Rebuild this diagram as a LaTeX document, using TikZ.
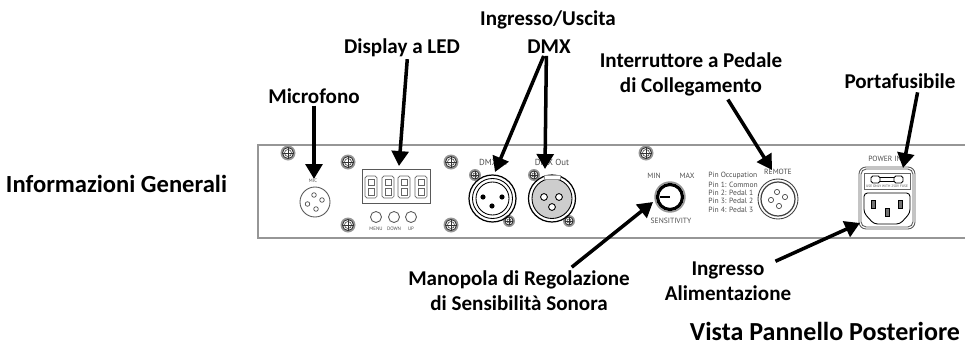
\documentclass[tikz,border=0pt]{standalone}
\usepackage{fontspec}
\setmainfont{Carlito}
\newfontfamily\panelfont{PT Sans}
\usetikzlibrary{arrows.meta}
\begin{document}
\begin{tikzpicture}[x=0.02cm,y=-0.02cm,
        callout/.style={line width=2pt, -{Triangle[width=9.5pt,length=8.5pt]}},
        heading/.style={inner sep=0pt, align=center, font=\bfseries\fontsize{12}{14.2}\selectfont},
        title/.style={inner sep=0pt, font=\bfseries\fontsize{14}{16}\selectfont},
        panel/.style={inner sep=0pt, text=black!70, font=\panelfont\fontsize{4.3}{5}\selectfont},
        jackname/.style={inner sep=0pt, text=black!70, font=\panelfont\fontsize{5}{6}\selectfont},
        tiny/.style={inner sep=0pt, text=black!70, font=\panelfont\fontsize{2.8}{3}\selectfont},
        outline/.style={draw=black!65, line width=0.5pt},
        hole/.style={draw=black!70, fill=white, line width=0.4pt}]
    \definecolor{rim}{RGB}{150,150,150}
    \definecolor{socket}{RGB}{205,205,205}

    \useasboundingbox (0,0) rectangle (965,345);

    \draw [draw=rim, line width=0.7pt] (965,145) -- (258,145) -- (258,238) -- (965,238);

    % screws
    \foreach \x/\y/\r in {288/153/7.5,348/162/7.5,348/225/7.5,451/162/7.5,451/225/7.5,646/153/7.5,475/175/6,509/221/6,534/175/6,569/221/6}{
        \fill [rim] (\x,\y) circle[radius=\r];
        \draw [fill=white, draw=black!80, line width=0.5pt] (\x,\y) circle[radius=\r-2];
        \draw [draw=black!80, line width=0.3pt] (\x-\r+2,\y) -- (\x+\r-2,\y);
        \draw [draw=black!80, line width=0.3pt] (\x,\y-\r+2) -- (\x,\y+\r-2);
        \draw [draw=black!80, line width=0.3pt] (\x,\y) circle[radius=\r-4];
    }

    % microphone
    \draw [outline] (315,202) circle[radius=15];
    \foreach \dx/\dy in {-1/-7,7/-2,1/7,-7.5/2}{
        \draw [hole] (315+\dx,202+\dy) circle[radius=2.3];
    }
    \node [tiny] (micText) at (313,181) {MIC};

    % display
    \draw [outline] (362,169) rectangle (430,203);
    \foreach \x in {371,388,404,421}{
        \draw [draw=black!60, line width=0.4pt, rounded corners=1pt] (\x-6,176) rectangle (\x+6,198);
        \draw [draw=black!60, line width=0.3pt] (\x-3,179) rectangle (\x+3,185.5);
        \draw [draw=black!60, line width=0.3pt] (\x-3,188.5) rectangle (\x+3,195);
    }
    \foreach \x/\name in {376/MENU,394/DOWN,411/UP}{
        \draw [outline] (\x,217) circle[radius=5.5];
        \node [tiny] (btn\name) at (\x,229) {\name};
    }

    % dmx sockets
    \draw [line width=0.7pt] (492.5,198.5) circle[radius=23.5];
    \draw [line width=0.5pt] (492.5,198.5) circle[radius=20];
    \draw [line width=0.5pt] (492.5,198.5) circle[radius=16.5];
    \foreach \x/\y in {483/197,502/197,492/206}{
        \fill (\x,\y) circle[radius=2.6];
    }
    \node [jackname] (dmxInText) at (493,162) {DMX In};

    \draw [line width=0.7pt] (552,198.5) circle[radius=23.5];
    \draw [fill=socket, line width=0.5pt] (552,198.5) circle[radius=20];
    \draw [draw=rim, fill=white, line width=0.4pt] (544,175.5) rectangle (560,179);
    \foreach \x/\y in {544/197,559/197,552/207}{
        \draw [fill=white, line width=0.5pt] (\x,\y) circle[radius=3.4];
    }
    \node [jackname] (dmxOutText) at (552,162) {DMX Out};

    % knob
    \draw [draw=rim, line width=0.8pt] (670,197) circle[radius=15];
    \draw [line width=1.8pt] (670,197) circle[radius=12.5];
    \draw [line width=0.7pt] (660,197) -- (670,197);
    \node [panel] (minText) at (654,176) {MIN};
    \node [panel] (maxText) at (687,176) {MAX};
    \node [panel] (sensText) at (671,221) {SENSITIVITY};

    % remote
    \foreach \y/\txt in {176/Pin Occupation,184.5/Pin 1: Common,192.5/Pin 2: Pedal 1,201/Pin 3: Pedal 2,210/Pin 4: Pedal 3}{
        \node [panel, anchor=west] at (708,\y) {\txt};
    }
    \draw [line width=0.5pt, draw=black!75] (778,199) circle[radius=20];
    \draw [line width=0.7pt, draw=black!75] (778,199) circle[radius=17];
    \foreach \dx/\dy in {-1/-7,7/-2,1/7,-7/1}{
        \draw [hole] (778+\dx,199+\dy) circle[radius=2.6];
    }
    \node [panel] (remoteText) at (778,172) {REMOTE};

    % power
    \node [panel] (powerText) at (885,159) {POWER IN};
    \draw [outline, rounded corners=4pt] (859,167) rectangle (915,229);
    \draw [outline, rounded corners=3pt] (861,169) rectangle (913,227);
    \draw [draw=black!60, line width=0.4pt] (864,173) rectangle (910,189);
    \draw [line width=0.5pt, rounded corners=1pt] (871,176) rectangle (880,183);
    \draw [line width=0.5pt, rounded corners=1pt] (894,176) rectangle (903,183);
    \draw [line width=0.4pt] (880,177.5) -- (894,177.5);
    \draw [line width=0.4pt] (880,181.5) -- (894,181.5);
    \node [inner sep=0pt, text=black!70, font=\panelfont\fontsize{2}{2.5}\selectfont] (fuseText) at (887,186.5) {USE ONLY WITH 250V FUSE};
    \draw [line width=0.5pt, rounded corners=2pt] (864,193) -- (910,193) -- (910,213) -- (900,224) -- (874,224) -- (864,213) -- cycle;
    \foreach \x/\y in {873/204,900/204,887/212}{
        \draw [fill=black!55, line width=0.5pt] (\x-2,\y-4) rectangle (\x+2,\y+4);
    }

    % labels
    \node [title] (infoLabel) at (116.5,184) {Informazioni Generali};
    \node [heading] (micLabel) at (314,96) {Microfono};
    \node [heading] (ledLabel) at (402,48) {Display a LED};
    \node [heading] (ioLabel) at (548,20) {Ingresso/Uscita};
    \node [heading] (dmxLabel) at (549,47) {DMX};
    \node [heading] (pedalLabel) at (691,74) {Interruttore a Pedale\\di Collegamento};
    \node [heading] (fuseLabel) at (900,81) {Portafusibile};
    \node [heading] (knobLabel) at (519,291) {Manopola di Regolazione\\di Sensibilità Sonora};
    \node [heading] (mainsLabel) at (728,281) {Ingresso\\Alimentazione};
    \node [title, font=\bfseries\fontsize{14.8}{17}\selectfont] (viewLabel) at (825,331.5) {Vista Pannello Posteriore};

    % arrows
    \coordinate (micTip) at (314,179);
    \coordinate (ledTip) at (399,166);
    \coordinate (dmxInTip) at (495,172);
    \coordinate (dmxOutTip) at (545,169);
    \coordinate (pedalTip) at (772,170);
    \coordinate (fuseTip) at (903,168);
    \coordinate (knobTip) at (653,202);
    \coordinate (mainsTip) at (860,223);

    \draw [callout] ([yshift=-1pt]micLabel.south) -- (micTip);
    \draw [callout] ([xshift=3pt,yshift=-1pt]ledLabel.south) -- (ledTip);
    \draw [callout] ([xshift=-3pt,yshift=-1pt]dmxLabel.south) -- (dmxInTip);
    \draw [callout] ([xshift=-1.5pt,yshift=-1pt]dmxLabel.south) -- (dmxOutTip);
    \draw [callout] ([xshift=21pt,yshift=-2pt]pedalLabel.south) -- (pedalTip);
    \draw [callout] ([xshift=10pt,yshift=-2pt]fuseLabel.south) -- (fuseTip);
    \draw [callout] ([xshift=30pt,yshift=2pt]knobLabel.north) -- (knobTip);
    \draw [callout] ([xshift=27pt,yshift=0pt]mainsLabel.north) -- (mainsTip);
\end{tikzpicture}
\end{document}
